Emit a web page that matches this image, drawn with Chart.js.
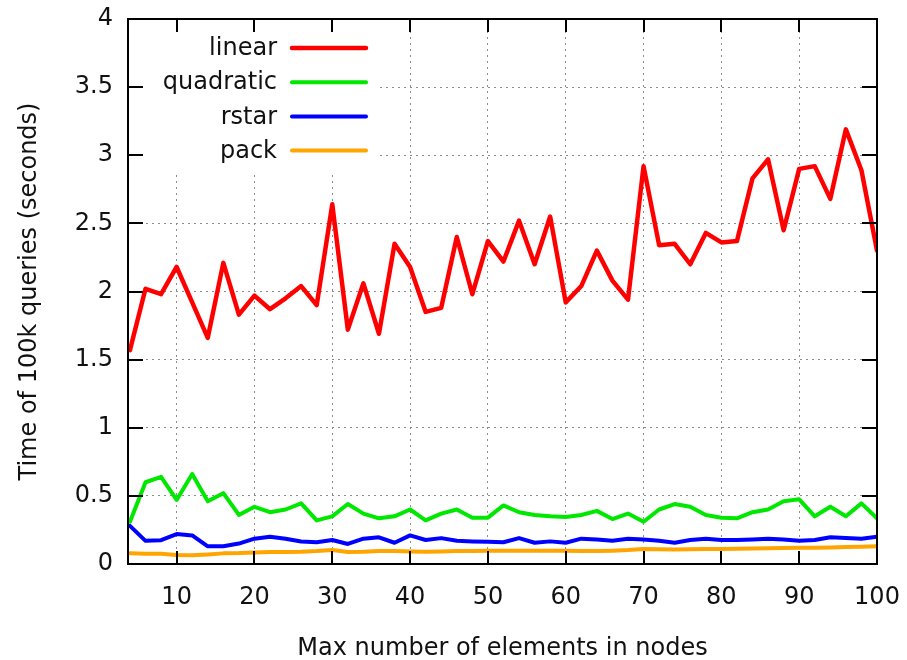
<!DOCTYPE html>
<html>
<head>
<meta charset="utf-8">
<script src="https://cdn.jsdelivr.net/npm/chart.js@4/dist/chart.umd.min.js"></script>
<style>
html,body{margin:0;padding:0;background:#fff;}
#wrap{width:907px;height:660px;position:relative;}
</style>
</head>
<body>
<div id="wrap"><canvas id="c" width="907" height="660"></canvas></div>
<script>
const xValues = [4,6,8,10,12,14,16,18,20,22,24,26,28,30,32,34,36,38,40,42,44,46,48,50,52,54,56,58,60,62,64,66,68,70,72,74,76,78,80,82,84,86,88,90,92,94,96,98,100];
const linear = [1.57,2.02,1.98,2.18,1.92,1.66,2.21,1.83,1.97,1.87,1.95,2.04,1.90,2.64,1.72,2.06,1.69,2.35,2.18,1.85,1.88,2.40,1.98,2.37,2.22,2.52,2.20,2.55,1.92,2.04,2.30,2.08,1.94,2.92,2.34,2.35,2.20,2.43,2.36,2.37,2.83,2.97,2.45,2.90,2.92,2.68,3.19,2.89,2.30];
const quadratic = [0.31,0.60,0.64,0.47,0.66,0.46,0.52,0.36,0.42,0.38,0.40,0.445,0.32,0.35,0.44,0.37,0.335,0.35,0.40,0.32,0.37,0.40,0.34,0.34,0.43,0.38,0.36,0.35,0.345,0.36,0.39,0.33,0.37,0.31,0.40,0.44,0.42,0.36,0.34,0.335,0.38,0.40,0.46,0.475,0.35,0.42,0.35,0.445,0.335];
const rstar = [0.28,0.17,0.175,0.22,0.21,0.13,0.13,0.15,0.186,0.20,0.185,0.165,0.16,0.176,0.147,0.186,0.196,0.156,0.21,0.176,0.19,0.17,0.166,0.164,0.16,0.19,0.156,0.166,0.156,0.186,0.18,0.17,0.186,0.18,0.17,0.156,0.176,0.186,0.176,0.176,0.18,0.186,0.18,0.17,0.176,0.196,0.19,0.186,0.20];
const pack = [0.078,0.076,0.075,0.066,0.064,0.07,0.078,0.08,0.085,0.088,0.088,0.09,0.095,0.103,0.088,0.09,0.095,0.095,0.092,0.09,0.092,0.095,0.096,0.097,0.098,0.097,0.097,0.097,0.097,0.096,0.096,0.098,0.102,0.11,0.108,0.106,0.108,0.11,0.11,0.112,0.114,0.116,0.118,0.12,0.12,0.122,0.124,0.126,0.13];
const seriesNames = ['linear','quadratic','rstar','pack'];
const seriesColors = ['#ff0000','#00e800','#0000ff','#ffa500'];
const xTickValues = [10,20,30,40,50,60,70,80,90,100];
const yTickValues = [0,0.5,1,1.5,2,2.5,3,3.5,4];
const xTitle = 'Max number of elements in nodes';
const yTitle = 'Time of 100k queries (seconds)';

const FONT = '"DejaVu Sans", Verdana, sans-serif';
const FS = 24;
const TEXT = '#111';

const seriesValues = [linear, quadratic, rstar, pack];
const datasets = seriesValues.map((vals, i) => ({
  label: seriesNames[i],
  data: xValues.map((x, j) => ({x: x, y: vals[j]})),
  borderColor: seriesColors[i],
  backgroundColor: seriesColors[i],
  borderWidth: i === 0 ? 4.5 : 4,
  pointRadius: 0,
  tension: 0,
  fill: false,
  borderJoinStyle: 'round',
  borderCapStyle: 'round'
}));

const framePlugin = {
  id: 'frame',
  beforeDatasetsDraw(chart) {
    const ctx = chart.ctx, a = chart.chartArea;
    ctx.save();
    ctx.fillStyle = '#fff';
    ctx.fillRect(a.left + 1, a.top + 1, 250, 153);
    ctx.restore();
  },
  afterDraw(chart) {
    const ctx = chart.ctx, a = chart.chartArea;
    const xs = chart.scales.x, ys = chart.scales.y;
    ctx.save();
    ctx.strokeStyle = '#000';
    ctx.lineWidth = 2;
    const TL = 13;
    ctx.beginPath();
    xs.ticks.forEach(t => {
      if (t.value <= xs.min || t.value >= xs.max) return;
      const px = Math.round(xs.getPixelForValue(t.value));
      ctx.moveTo(px, a.bottom); ctx.lineTo(px, a.bottom - TL);
      ctx.moveTo(px, a.top); ctx.lineTo(px, a.top + TL);
    });
    ys.ticks.forEach(t => {
      if (t.value <= ys.min || t.value >= ys.max) return;
      const py = Math.round(ys.getPixelForValue(t.value));
      ctx.moveTo(a.left, py); ctx.lineTo(a.left + TL + 2, py);
      ctx.moveTo(a.right, py); ctx.lineTo(a.right - TL - 2, py);
    });
    ctx.stroke();
    ctx.lineWidth = 2;
    ctx.strokeRect(a.left, a.top, a.right - a.left, a.bottom - a.top);
    // legend
    ctx.font = FS + 'px ' + FONT;
    ctx.textAlign = 'right';
    ctx.textBaseline = 'middle';
    const rowY0 = a.top + 29, rowH = 34.2;
    chart.data.datasets.forEach((ds, i) => {
      const y = rowY0 + i * rowH;
      ctx.fillStyle = TEXT;
      ctx.fillText(ds.label, a.left + 149, y + 1);
      ctx.strokeStyle = ds.borderColor;
      ctx.lineWidth = ds.borderWidth;
      ctx.lineCap = 'round';
      ctx.beginPath();
      ctx.moveTo(a.left + 164, y);
      ctx.lineTo(a.left + 238, y);
      ctx.stroke();
    });
    ctx.restore();
  }
};

new Chart(document.getElementById('c'), {
  type: 'line',
  data: { datasets: datasets },
  options: {
    responsive: false,
    animation: false,
    devicePixelRatio: 1,
    layout: { padding: { left: 0, top: 19, right: 30, bottom: 0 } },
    plugins: { legend: { display: false }, tooltip: { enabled: false } },
    scales: {
      x: {
        type: 'linear',
        min: 3.75,
        max: 100,
        ticks: { color: TEXT, font: { family: FONT, size: FS }, padding: 19, maxRotation: 0, autoSkip: false },
        afterBuildTicks(scale) { scale.ticks = xTickValues.map(v => ({ value: v })); },
        afterFit(scale) { scale.height = 96; scale.paddingLeft = 0; scale.paddingRight = 0; },
        grid: { drawTicks: false, color: '#8c8c8c', lineWidth: 1 },
        border: { display: false, dash: [2, 4] },
        title: { display: true, text: xTitle, color: TEXT, font: { family: FONT, size: FS }, padding: { top: 0, bottom: -3 } }
      },
      y: {
        type: 'linear',
        min: 0,
        max: 4,
        ticks: { color: TEXT, font: { family: FONT, size: FS }, padding: 15, autoSkip: false,
                 callback: v => String(Number(v)) },
        afterBuildTicks(scale) { scale.ticks = yTickValues.map(v => ({ value: v })); },
        afterFit(scale) { scale.width = 128; scale.paddingTop = 0; scale.paddingBottom = 0; },
        grid: { drawTicks: false, color: '#8c8c8c', lineWidth: 1 },
        border: { display: false, dash: [2, 4] },
        title: { display: true, text: yTitle, color: TEXT, font: { family: FONT, size: FS }, padding: { top: 15, bottom: 0 } }
      }
    }
  },
  plugins: [framePlugin]
});
</script>
</body>
</html>
